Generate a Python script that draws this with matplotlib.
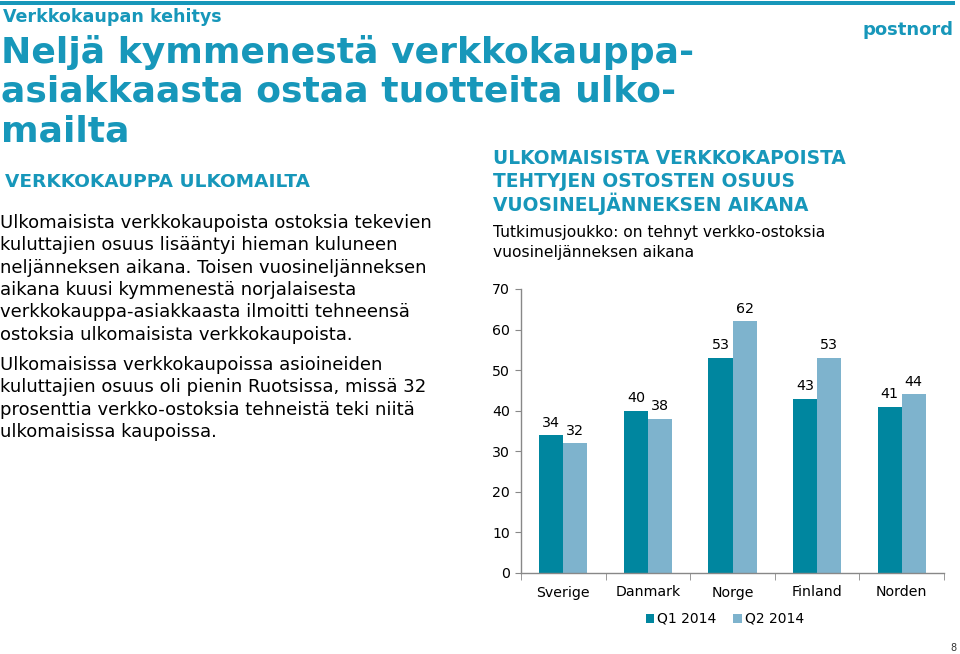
import numpy as np
import matplotlib
matplotlib.use("Agg")
import matplotlib.pyplot as plt
from matplotlib.patches import Rectangle

# data
countries = ["Sverige", "Danmark", "Norge", "Finland", "Norden"]
q1_2014 = [34, 40, 53, 43, 41]
q2_2014 = [32, 38, 62, 53, 44]
series_names = ["Q1 2014", "Q2 2014"]
yticks = [0, 10, 20, 30, 40, 50, 60, 70]

title_lines = ["Neljä kymmenestä verkkokauppa-",
               "asiakkaasta ostaa tuotteita ulko-",
               "mailta"]
para1 = ["Ulkomaisista verkkokaupoista ostoksia tekevien",
         "kuluttajien osuus lisääntyi hieman kuluneen",
         "neljänneksen aikana. Toisen vuosineljänneksen",
         "aikana kuusi kymmenestä norjalaisesta",
         "verkkokauppa-asiakkaasta ilmoitti tehneensä",
         "ostoksia ulkomaisista verkkokaupoista."]
para2 = ["Ulkomaisissa verkkokaupoissa asioineiden",
         "kuluttajien osuus oli pienin Ruotsissa, missä 32",
         "prosenttia verkko-ostoksia tehneistä teki niitä",
         "ulkomaisissa kaupoissa."]
chart_title = ["ULKOMAISISTA VERKKOKAPOISTA",
               "TEHTYJEN OSTOSTEN OSUUS",
               "VUOSINELJÄNNEKSEN AIKANA"]
chart_sub = ["Tutkimusjoukko: on tehnyt verkko-ostoksia",
             "vuosineljänneksen aikana"]

W, H = 960, 654
teal = "#1797BA"
c_q1 = "#00869F"
c_q2 = "#7EB3CD"

plt.rcParams['font.family'] = ['DejaVu Sans']

fig = plt.figure(figsize=(W / 100, H / 100), dpi=100)


def px(x, y):
    return x / W, 1 - y / H


def put(x, y, s, **kw):
    fig.text(*px(x, y), s, va="center", ha=kw.pop("ha", "left"), **kw)


# top rule
fig.add_artist(Rectangle(px(0, 5), 955 / W, 4 / H, transform=fig.transFigure,
                         color=teal, lw=0))

put(3, 17, "Verkkokaupan kehitys", fontsize=12.6, fontweight="bold", color=teal)
for i, line in enumerate(title_lines):
    put(1, 52 + i * 40, line, fontsize=26, fontweight="bold", color=teal)

put(5, 182, "VERKKOKAUPPA ULKOMAILTA", fontsize=13.3, fontweight="bold", color=teal)
for i, line in enumerate(para1):
    put(0, 223 + i * 22.3, line, fontsize=13, color="black")
for i, line in enumerate(para2):
    put(0, 365 + i * 22.3, line, fontsize=13, color="black")

put(908, 30, "postnord", fontsize=13, fontweight="bold", color=teal, ha="center")
put(953, 648, "8", fontsize=7, color="#333333", ha="center")

for i, line in enumerate(chart_title):
    put(493, 159 + i * 22.5, line, fontsize=13.4, fontweight="bold", color=teal)
for i, line in enumerate(chart_sub):
    put(493, 233 + i * 19, line, fontsize=11.2, color="black")

# chart
ax_l, ax_r, ax_t, ax_b = 521, 944, 289, 573
ax = fig.add_axes([ax_l / W, 1 - ax_b / H, (ax_r - ax_l) / W, (ax_b - ax_t) / H])
x = np.arange(len(countries))
bw = 0.284
b1 = ax.bar(x - bw / 2, q1_2014, bw, color=c_q1, label=series_names[0])
b2 = ax.bar(x + bw / 2, q2_2014, bw, color=c_q2, label=series_names[1])
for bars, vals in [(b1, q1_2014), (b2, q2_2014)]:
    for b, v in zip(bars, vals):
        ax.annotate(str(v), (b.get_x() + b.get_width() / 2, v), xytext=(0, 4),
                    textcoords="offset points", ha="center", va="bottom",
                    fontsize=10.3, color="black")

ax.set_xlim(-0.5, len(countries) - 0.5)
ax.set_ylim(0, 70)
ax.set_yticks(yticks)
ax.set_xticks(x)
ax.set_xticklabels(countries)
ax.set_xticks(np.arange(-0.5, len(countries)), minor=True)
ax.tick_params(axis="x", which="major", length=0, pad=9, labelsize=10.2)
ax.tick_params(axis="x", which="minor", length=5, color="#888888", direction="out")
ax.tick_params(axis="y", length=4, color="#888888", pad=4, labelsize=10.2)
for s in ["top", "right"]:
    ax.spines[s].set_visible(False)
for s in ["left", "bottom"]:
    ax.spines[s].set_color("#888888")
    ax.spines[s].set_linewidth(1)

ax.legend(loc="center", bbox_to_anchor=(px(725, 619)), bbox_transform=fig.transFigure,
          ncol=2, frameon=False, fontsize=10, handlelength=0.6, handleheight=0.6,
          handletextpad=0.25, columnspacing=1.2)

fig.savefig("out.png", dpi=100)
